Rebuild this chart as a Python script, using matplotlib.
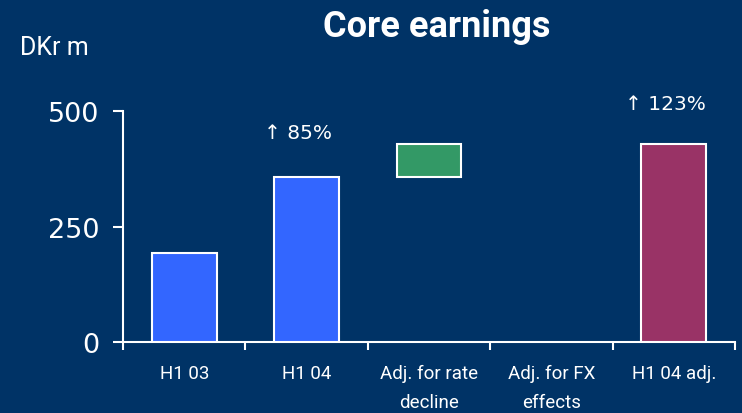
import matplotlib.pyplot as plt

# data
categories = ["H1 03", "H1 04", "Adj. for rate\ndecline", "Adj. for FX\neffects", "H1 04 adj."]
values = [193, 357, 73, 0, 430]
kinds = ["total", "total", "step", "step", "total"]
bar_colors = ["#3366ff", "#3366ff", "#339966", "#339966", "#993366"]
pct_labels = {1: "↑ 85%", 4: "↑ 123%"}
yticks = [0, 250, 500]

bg = "#003366"
narrow = ["Roboto", "DejaVu Sans"]

# waterfall bottoms
bottoms = []
running = 0
for v, k in zip(values, kinds):
    if k == "total":
        bottoms.append(0)
        running = v
    else:
        bottoms.append(running)
        running += v

fig = plt.figure(figsize=(7.42, 4.14), dpi=100, facecolor=bg)
ax = fig.add_axes([0.1658, 0.1722, 0.8248, 0.5565], facecolor=bg)

xs = list(range(len(categories)))
for x, v, b, c in zip(xs, values, bottoms, bar_colors):
    if v == 0:
        continue
    ax.bar(x, v, bottom=b, width=0.53, color=c, edgecolor="white", linewidth=1.5, zorder=3)

for i, txt in pct_labels.items():
    top = bottoms[i] + values[i]
    ax.text(i - 0.07, top + (88 if i == 4 else 97), txt, ha="center", va="center",
            color="white", fontsize=14.5, clip_on=False)

ax.set_xlim(-0.5, len(categories) - 0.5)
ax.set_ylim(0, 500)

for s in ["top", "right"]:
    ax.spines[s].set_visible(False)
for s in ["left", "bottom"]:
    ax.spines[s].set_color("white")
    ax.spines[s].set_linewidth(1.5)

ax.set_yticks(yticks)
ax.set_yticklabels([str(t) for t in yticks])
ax.tick_params(axis="y", colors="white", labelsize=19.5, length=7, width=1.5, pad=10)

# ticks on category boundaries, labels in the middle
ax.set_xticks([x - 0.5 for x in range(len(categories) + 1)])
ax.set_xticklabels([])
ax.set_xticks(xs, minor=True)
ax.set_xticklabels(categories, minor=True, family=narrow, fontsize=13.5)
ax.tick_params(axis="x", which="major", colors="white", length=6, width=1.5)
ax.tick_params(axis="x", which="minor", colors="white", length=0, pad=16)
for lab in ax.get_xticklabels(minor=True):
    lab.set_linespacing(1.75)

fig.text(0.588, 0.935, "Core earnings", ha="center", va="center", color="white",
         fontsize=26, fontweight="bold", family=narrow)
fig.text(0.027, 0.884, "DKr m", ha="left", va="center", color="white",
         fontsize=18, family=narrow)

fig.savefig("out.png", dpi=100, facecolor=bg)
